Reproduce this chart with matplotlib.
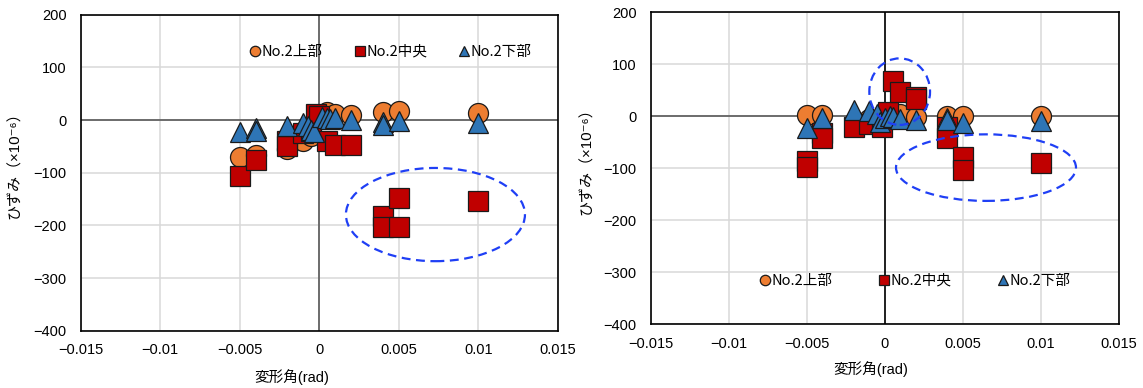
import matplotlib
matplotlib.use("Agg")
import matplotlib.pyplot as plt
from matplotlib.patches import Ellipse
from matplotlib.ticker import FuncFormatter

plt.rcParams['font.family'] = ['Liberation Sans', 'Noto Sans CJK JP', 'DejaVu Sans']

# ---------------- data ----------------
series_names = ["No.2上部", "No.2中央", "No.2下部"]

# left chart
L_top_x = [-0.005, -0.004, -0.002, -0.001, -0.0005, 0, 0.0005, 0.001, 0.002, 0.004, 0.005, 0.01]
L_top_y = [-70, -66, -55, -40, -30, 8, 15, 12, 10, 15, 18, 14]
L_mid_x = [-0.005, -0.004, -0.002, -0.002, -0.001, -0.0005, -0.0002, 0, 0.0005, 0.001, 0.002,
           0.004, 0.004, 0.005, 0.005, 0.01]
L_mid_y = [-107, -75, -40, -50, -25, -20, 12, 8, -40, -47, -47,
           -183, -204, -148, -204, -153]
L_bot_x = [-0.005, -0.004, -0.004, -0.002, -0.001, -0.0007, -0.0005, -0.0003, 0.0002, 0.0005,
           0.0007, 0.001, 0.002, 0.004, 0.004, 0.005, 0.01]
L_bot_y = [-23, -15, -21, -11, -6, -12, -18, -22, 5, 3, 2, 3, 0, -3, -9, -1, -5]

# right chart
R_top_x = [-0.005, -0.004, -0.001, 0, 0.0005, 0.001, 0.002, 0.004, 0.005, 0.01]
R_top_y = [2, 2, -5, 2, 5, 5, -1, 1, 0, 0]
R_mid_x = [-0.005, -0.005, -0.004, -0.004, -0.002, -0.001, -0.0002, 0.0002, 0.0005, 0.001,
           0.002, 0.002, 0.004, 0.004, 0.005, 0.005, 0.01]
R_mid_y = [-86, -97, -32, -42, -21, -14, -20, 8, 67, 47,
           38, 34, -21, -41, -78, -103, -89]
R_bot_x = [-0.005, -0.004, -0.002, -0.001, -0.0005, -0.0003, 0, 0.0003, 0.0005, 0.001,
           0.002, 0.004, 0.004, 0.005, 0.01]
R_bot_y = [-22, -4, 13, 11, 5, -11, -3, 0, -2, -5, -7, -3, -8, -12, -9]

x_ticks = [-0.015, -0.01, -0.005, 0, 0.005, 0.01, 0.015]
y_ticks = [-400, -300, -200, -100, 0, 100, 200]

xlabel = "変形角(rad)"
ylabel = "ひずみ（×10⁻⁶）"

colors = ["#ED7D31", "#C00000", "#2E75B6"]
markers = ["o", "s", "^"]

# ---------------- figure ----------------
W, H = 1143, 388
fig = plt.figure(figsize=(W / 100, H / 100), dpi=100)

def rect(l, r, t, b):
    return [l / W, 1 - b / H, (r - l) / W, (b - t) / H]

axL = fig.add_axes(rect(80.7, 557.7, 14.7, 330.7))
axR = fig.add_axes(rect(650.7, 1119, 12.3, 324.3))

fmt = FuncFormatter(lambda v, p: ("%g" % v).replace("-", "\u2212"))

def style(ax, vcolor):
    ax.set_xlim(-0.015, 0.015)
    ax.set_ylim(-400, 200)
    ax.set_xticks(x_ticks)
    ax.set_yticks(y_ticks)
    ax.xaxis.set_major_formatter(fmt)
    ax.yaxis.set_major_formatter(fmt)
    ax.grid(True, color="#D9D9D9", lw=1.1, zorder=0)
    ax.set_axisbelow(True)
    ax.tick_params(axis="both", length=0, labelsize=10.5)
    ax.tick_params(axis="x", pad=9)
    ax.tick_params(axis="y", pad=10)
    for s in ax.spines.values():
        s.set_color("black")
        s.set_linewidth(1.2)
    ax.axhline(0, color="#595959", lw=1.2, zorder=1)
    ax.axvline(0, color=vcolor, lw=1.2, zorder=1)
    ax.set_xlabel(xlabel, fontsize=10.5)
    ax.set_ylabel(ylabel, fontsize=10.8)

def plot_series(ax, data):
    handles = []
    for (xs, ys), c, m, name in zip(data, colors, markers, series_names):
        h, = ax.plot(xs, ys, linestyle="none", marker=m, markersize=14.4,
                     markerfacecolor=c, markeredgecolor="#1a1a1a",
                     markeredgewidth=0.9, label=name, zorder=3)
        handles.append(h)
    return handles

hL = plot_series(axL, [(L_top_x, L_top_y), (L_mid_x, L_mid_y), (L_bot_x, L_bot_y)])
hR = plot_series(axR, [(R_top_x, R_top_y), (R_mid_x, R_mid_y), (R_bot_x, R_bot_y)])

style(axL, "#595959")
style(axR, "black")

# labels positions
axL.xaxis.set_label_coords(0.443, -0.146)
axL.xaxis.label.set_va("center")
axL.yaxis.set_label_coords(-0.139, 0.534)
axL.yaxis.label.set_va("center")
axR.xaxis.set_label_coords(0.47, -0.144)
axR.xaxis.label.set_va("center")
axR.yaxis.set_label_coords(-0.136, 0.533)
axR.yaxis.label.set_va("center")

# dashed ellipses
ell_kw = dict(fill=False, edgecolor="#1F3FF5", lw=1.6, linestyle=(0, (4, 2.5)), zorder=4)
axL.add_patch(Ellipse((0.00731, -179.5), 0.01126, 177, **ell_kw))
axR.add_patch(Ellipse((0.00095, 47.4), 0.00389, 128, **ell_kw))
axR.add_patch(Ellipse((0.00648, -98.7), 0.01153, 128, **ell_kw))

leg_kw = dict(ncol=3, frameon=False, markerscale=0.52, handlelength=0.7,
              handletextpad=0.1, borderaxespad=0, borderpad=0,
              prop={'family': ['Noto Sans CJK JP'], 'size': 10.5})
axL.legend(handles=hL, loc="center", bbox_to_anchor=(0.65, 0.883),
           columnspacing=2.2, **leg_kw)
axR.legend(handles=hR, loc="center", bbox_to_anchor=(0.565, 0.14),
           columnspacing=3.2, **leg_kw)

fig.savefig("out.png", dpi=100)
